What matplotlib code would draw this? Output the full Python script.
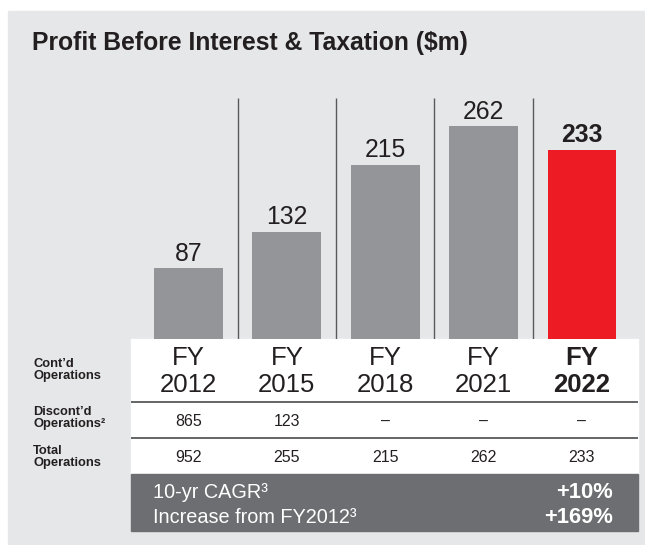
import matplotlib
matplotlib.use("Agg")
import matplotlib.pyplot as plt
from matplotlib.patches import Rectangle

# ---- data ----
years = ["2012", "2015", "2018", "2021", "2022"]
contd = [87, 132, 215, 262, 233]
discontd = ["865", "123", "–", "–", "–"]
total = ["952", "255", "215", "262", "233"]
highlight = [False, False, False, False, True]
row_labels = ["Cont’d\nOperations", "Discont’d\nOperations²", "Total\nOperations"]
title = "Profit Before Interest & Taxation ($m)"
band_labels = ["10-yr CAGR³", "Increase from FY2012³"]
band_values = ["+10%", "+169%"]

BG = "#E6E7E8"
BAR = "#939598"
RED = "#ED1C24"
DARK = "#6D6E71"
TXT = "#231F20"
LINE = "#58595B"

W, H = 645, 545
fig = plt.figure(figsize=(W / 100, H / 100), dpi=100)
fig.patch.set_facecolor("white")
FONT = ["Liberation Sans", "DejaVu Sans"]
plt.rcParams["font.family"] = FONT

# background / pixel axes
bg = fig.add_axes([0, 0, 1, 1])
bg.set_xlim(0, W)
bg.set_ylim(H, 0)
bg.axis("off")
bg.add_patch(Rectangle((8, 11), W + 20, H + 20, color=BG, zorder=0, clip_on=False))
bg.add_patch(Rectangle((131, 339), 638 - 131, 474 - 339, color="white", zorder=1))
bg.add_patch(Rectangle((131, 474), 638 - 131, 531 - 474, color=DARK, zorder=1))
bg.hlines([402, 438], 131, 638, color=LINE, lw=1.3, zorder=2)

bg.text(32, 50, title, fontsize=17.8, fontweight="bold", color=TXT,
        ha="left", va="baseline")

for lab, yc in zip(row_labels, [370, 418, 457]):
    bg.text(33, yc, lab, fontsize=9.3, fontweight="bold", color=TXT,
            ha="left", va="center", linespacing=0.95)

for lab, val, yb in zip(band_labels, band_values, [498, 523]):
    bg.text(153, yb, lab, fontsize=14.3, color="white", ha="left", va="baseline", zorder=3)
    bg.text(613, yb, val, fontsize=15.8, color="white", ha="right", va="baseline",
            fontweight="bold", zorder=3)

XL = (-0.585, 4.57)

# bar axes
ax = fig.add_axes([131 / W, (H - 339) / H, (638 - 131) / W, (339 - 98) / H])
ax.set_xlim(*XL)
ax.set_ylim(0, 297)
ax.axis("off")
x = list(range(len(years)))
colors = [RED if h else BAR for h in highlight]
ax.bar(x, contd, width=0.70, color=colors, zorder=2)
ax.vlines([i + 0.5 for i in x[:-1]], 0, 297, color=LINE, lw=1.0, zorder=1)
for i, v in enumerate(contd):
    ax.annotate(str(v), (i, v), xytext=(0, 5.5), textcoords="offset points",
                ha="center", va="baseline", fontsize=17.8, color=TXT,
                fontweight="bold" if highlight[i] else "normal")

# table axes (x = category index, y = pixels)
tab = fig.add_axes([131 / W, (H - 531) / H, (638 - 131) / W, (531 - 339) / H])
tab.set_xlim(*XL)
tab.set_ylim(531, 339)
tab.axis("off")
for i, yr in enumerate(years):
    fw = "bold" if highlight[i] else "normal"
    tab.text(i, 365, "FY", ha="center", va="baseline", fontsize=18.5,
             color=TXT, fontweight=fw)
    tab.text(i, 392, yr, ha="center", va="baseline", fontsize=18.5,
             color=TXT, fontweight=fw)
    tab.text(i, 421, discontd[i], ha="center", va="center", fontsize=11.5, color=TXT)
    tab.text(i, 457, total[i], ha="center", va="center", fontsize=11.5, color=TXT)

fig.savefig("out.png", dpi=100, facecolor=fig.get_facecolor())
